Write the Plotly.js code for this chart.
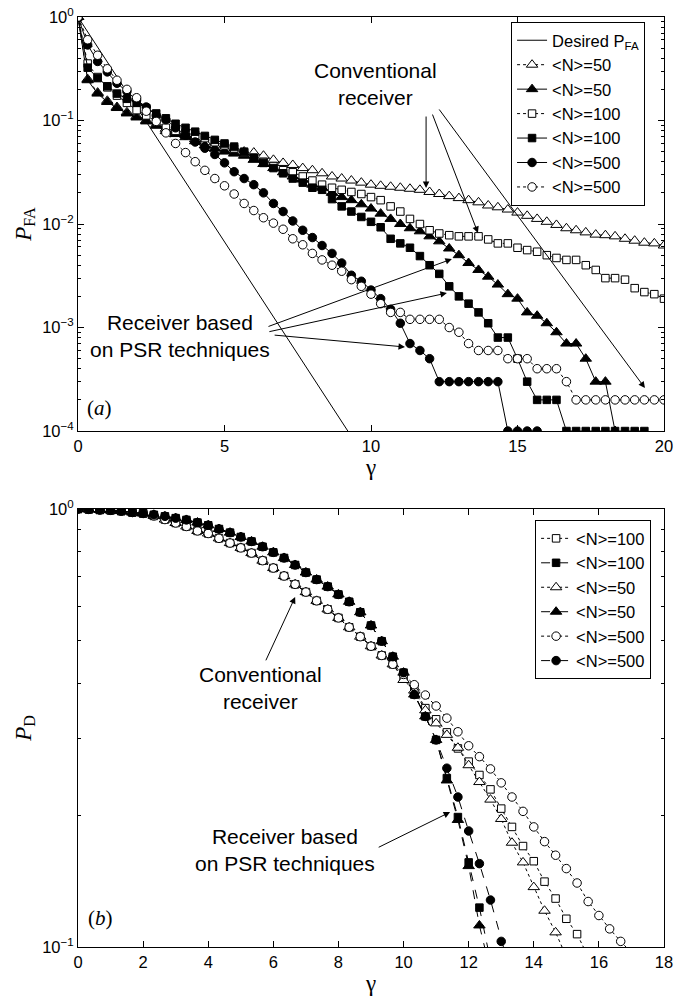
<!DOCTYPE html>
<html>
<head>
<meta charset="utf-8">
<script src="https://cdn.plot.ly/plotly-3.0.1.min.js"></script>
<style>html,body{margin:0;padding:0;background:#fff;}#chart{width:674px;height:1001px;}</style>
</head>
<body>
<div id="chart"></div>
<script>
// ---------- Panel (a): false-alarm probability vs gamma ----------
const gammaA = [0,0.33,0.67,1,1.33,1.67,2,2.33,2.67,3,3.33,3.67,4,4.33,4.67,5,5.33,5.67,6,6.33,6.67,7,7.33,7.67,8,8.33,8.67,9,9.33,9.67,10,10.33,10.67,11,11.33,11.67,12,12.33,12.67,13,13.33,13.67,14,14.33,14.67,15,15.33,15.67,16,16.33,16.67,17,17.33,17.67,18,18.33,18.67,19,19.33,19.67,20];
const desiredGamma = [0, 9.21];
const desiredPfa = [1, 0.0001];
const pfaConv50 = [1,0.251,0.186,0.155,0.135,0.120,0.110,0.100,0.0912,0.0832,0.0776,0.0724,0.0661,0.0617,0.0575,0.0537,0.0525,0.0501,0.0490,0.0457,0.0417,0.0389,0.0372,0.0347,0.0331,0.0309,0.0288,0.0275,0.0263,0.0251,0.0240,0.0234,0.0229,0.0224,0.0219,0.0214,0.0204,0.0195,0.0186,0.0178,0.0170,0.0162,0.0151,0.0145,0.0138,0.0129,0.0120,0.0112,0.0105,0.0098,0.0091,0.0087,0.0083,0.0079,0.0078,0.0076,0.0072,0.0069,0.0066,0.0065,0.0062];
const pfaPsr50 = [1,0.245,0.182,0.151,0.132,0.117,0.107,0.098,0.089,0.079,0.074,0.069,0.063,0.0575,0.0537,0.0501,0.0479,0.0457,0.0417,0.0380,0.0347,0.0316,0.0288,0.0269,0.0240,0.0224,0.0200,0.0182,0.0170,0.0155,0.0141,0.0126,0.0112,0.0100,0.0091,0.0085,0.0076,0.0068,0.0058,0.0050,0.0042,0.0036,0.0031,0.0026,0.0021,0.0019,0.0014,0.0013,0.0011,0.0009,0.0007,0.0007,0.0005,0.0003,0.0003,0.0001,null,null,null,null,null];
const pfaConv100 = [1,0.355,0.263,0.209,0.174,0.148,0.126,0.112,0.0977,0.0851,0.0794,0.0759,0.0724,0.0676,0.0617,0.0575,0.0537,0.0490,0.0437,0.0398,0.0363,0.0331,0.0316,0.0288,0.0263,0.0240,0.0224,0.0214,0.0204,0.0195,0.0182,0.0170,0.0148,0.0132,0.0112,0.0100,0.0087,0.0081,0.0078,0.0076,0.0076,0.0076,0.0071,0.0065,0.0065,0.0059,0.0056,0.0054,0.0050,0.0047,0.0045,0.0045,0.0040,0.0036,0.0030,0.0030,0.0029,0.0024,0.0022,0.0021,0.0019];
const pfaPsr100 = [1,0.324,0.257,0.214,0.182,0.162,0.148,0.132,0.117,0.105,0.093,0.085,0.078,0.071,0.065,0.060,0.056,0.050,0.0437,0.0389,0.0347,0.0309,0.0275,0.0251,0.0224,0.0214,0.0174,0.0148,0.0132,0.0117,0.0105,0.0093,0.0072,0.0065,0.0059,0.0049,0.0040,0.0033,0.0025,0.0020,0.0017,0.0014,0.0011,0.0008,0.0008,0.0005,0.0003,0.0002,0.0002,0.0002,0.0001,0.0001,0.0001,0.0001,0.0001,0.0001,0.0001,0.0001,0.0001,null,null];
const pfaPsr500 = [1,0.537,0.372,0.295,0.229,0.191,0.158,0.135,0.112,0.102,0.085,0.072,0.062,0.054,0.047,0.039,0.032,0.0275,0.0240,0.0200,0.0158,0.0132,0.0107,0.0087,0.0074,0.0062,0.0052,0.0042,0.0032,0.0028,0.0023,0.0019,0.0015,0.0011,0.0007,0.0006,0.0005,0.0003,0.0003,0.0003,0.0003,0.0003,0.0003,0.0003,0.0001,0.0001,0.0001,0.0001,null,null,null,null,null,null,null,null,null,null,null,null,null];
const pfaConv500 = [1,0.603,0.427,0.316,0.245,0.200,0.166,0.123,0.098,0.076,0.060,0.049,0.040,0.033,0.0275,0.0234,0.0195,0.0158,0.0135,0.0115,0.0102,0.0089,0.0072,0.0063,0.0052,0.0045,0.0040,0.0035,0.0029,0.0025,0.0021,0.0017,0.0014,0.0014,0.0012,0.0012,0.0012,0.0012,0.0010,0.0009,0.0007,0.0006,0.0006,0.0006,0.0005,0.0005,0.0005,0.0004,0.0004,0.0004,0.0003,0.0002,0.0002,0.0002,0.0002,0.0002,0.0002,0.0002,0.0002,0.0002,0.0002];

// ---------- Panel (b): detection probability vs gamma ----------
const gammaB = [0,0.33,0.67,1,1.33,1.67,2,2.33,2.67,3,3.33,3.67,4,4.33,4.67,5,5.33,5.67,6,6.33,6.67,7,7.33,7.67,8,8.33,8.67,9,9.33,9.67,10,10.33,10.67,11,11.33,11.67,12,12.33,12.67,13,13.33,13.67,14,14.33,14.67,15,15.33,15.67,16,16.33,16.67,17];
const pdConv100 = [1.000,0.998,0.995,0.993,0.989,0.982,0.977,0.964,0.946,0.929,0.912,0.891,0.879,0.857,0.836,0.815,0.793,0.762,0.733,0.703,0.673,0.646,0.617,0.590,0.564,0.537,0.511,0.486,0.463,0.442,0.411,0.389,0.351,0.331,0.309,0.284,0.265,0.247,0.229,0.207,0.188,0.170,0.157,0.141,0.129,0.116,0.107,0.095];
const pdPsr100 = [1.000,0.998,0.995,0.993,0.989,0.982,0.977,0.970,0.962,0.953,0.944,0.931,0.918,0.900,0.883,0.863,0.843,0.820,0.796,0.773,0.745,0.716,0.690,0.665,0.638,0.614,0.581,0.542,0.499,0.460,0.423,0.377,0.336,0.297,0.243,0.198,0.156,0.123,0.093];
const pdConv50 = [1.000,0.998,0.995,0.993,0.989,0.982,0.977,0.964,0.946,0.929,0.912,0.891,0.879,0.857,0.836,0.815,0.793,0.762,0.733,0.703,0.673,0.646,0.617,0.590,0.564,0.537,0.511,0.486,0.463,0.442,0.407,0.385,0.347,0.324,0.305,0.285,0.260,0.238,0.217,0.196,0.173,0.156,0.137,0.121,0.108,0.095];
const pdPsr50 = [1.000,0.998,0.995,0.993,0.989,0.982,0.977,0.970,0.962,0.953,0.944,0.931,0.918,0.900,0.883,0.863,0.843,0.820,0.796,0.773,0.745,0.716,0.690,0.665,0.638,0.614,0.581,0.542,0.499,0.460,0.423,0.377,0.336,0.297,0.240,0.195,0.153,0.112,0.088];
const pdConv500 = [1.000,0.998,0.995,0.993,0.989,0.982,0.977,0.964,0.946,0.929,0.912,0.891,0.879,0.857,0.836,0.815,0.793,0.762,0.733,0.703,0.673,0.646,0.617,0.590,0.564,0.537,0.511,0.486,0.463,0.442,0.419,0.397,0.376,0.355,0.333,0.310,0.288,0.272,0.255,0.237,0.220,0.204,0.188,0.174,0.162,0.151,0.140,0.127,0.118,0.110,0.103,0.097];
const pdPsr500 = [1.000,0.998,0.995,0.993,0.989,0.982,0.977,0.970,0.962,0.953,0.944,0.931,0.918,0.900,0.883,0.863,0.843,0.820,0.796,0.773,0.745,0.716,0.690,0.665,0.638,0.614,0.581,0.542,0.499,0.460,0.423,0.377,0.336,0.297,0.256,0.220,0.184,0.155,0.128,0.103,0.085];

const labelsA = ['Desired P<sub>FA</sub>','&lt;N&gt;=50','&lt;N&gt;=50','&lt;N&gt;=100','&lt;N&gt;=100','&lt;N&gt;=500','&lt;N&gt;=500'];
const labelsB = ['&lt;N&gt;=100','&lt;N&gt;=100','&lt;N&gt;=50','&lt;N&gt;=50','&lt;N&gt;=500','&lt;N&gt;=500'];

const SANS = 'Liberation Sans, Arial, sans-serif';
const SERIF = 'Liberation Serif, Times New Roman, serif';

function mk(sym, filled, size) {
  return {symbol: sym, size: size, color: filled ? 'black' : 'white', line: {color: 'black', width: 1}};
}
function tr(x, y, name, sym, filled, dash, size, xa, ya, leg) {
  return {x: x.slice(0, y.length), y: y, name: name, type: 'scatter', mode: 'lines+markers',
    line: {color: 'black', width: 1, dash: dash}, marker: mk(sym, filled, size),
    xaxis: xa, yaxis: ya, legend: leg, cliponaxis: true};
}

const traces = [
  {x: desiredGamma, y: desiredPfa, name: labelsA[0], type: 'scatter', mode: 'lines', line: {color: 'black', width: 1}, xaxis: 'x', yaxis: 'y', legend: 'legend'},
  tr(gammaA, pfaConv50, labelsA[1], 'triangle-up', false, 'dot', 10, 'x', 'y', 'legend'),
  tr(gammaA, pfaPsr50, labelsA[2], 'triangle-up', true, 'solid', 10, 'x', 'y', 'legend'),
  tr(gammaA, pfaConv100, labelsA[3], 'square', false, 'dot', 7.5, 'x', 'y', 'legend'),
  tr(gammaA, pfaPsr100, labelsA[4], 'square', true, 'solid', 7.5, 'x', 'y', 'legend'),
  tr(gammaA, pfaPsr500, labelsA[5], 'circle', true, 'solid', 8.5, 'x', 'y', 'legend'),
  tr(gammaA, pfaConv500, labelsA[6], 'circle', false, 'dot', 8.5, 'x', 'y', 'legend'),

  tr(gammaB, pdConv100, labelsB[0], 'square', false, 'dot', 7.5, 'x2', 'y2', 'legend2'),
  tr(gammaB, pdPsr100, labelsB[1], 'square', true, 'dash', 7.5, 'x2', 'y2', 'legend2'),
  tr(gammaB, pdConv50, labelsB[2], 'triangle-up', false, 'dot', 10, 'x2', 'y2', 'legend2'),
  tr(gammaB, pdPsr50, labelsB[3], 'triangle-up', true, 'dash', 10, 'x2', 'y2', 'legend2'),
  tr(gammaB, pdConv500, labelsB[4], 'circle', false, 'dot', 8.5, 'x2', 'y2', 'legend2'),
  tr(gammaB, pdPsr500, labelsB[5], 'circle', true, 'dash', 8.5, 'x2', 'y2', 'legend2')
];

function minorVals(lo, hi) {
  const v = [];
  for (let e = lo; e < hi; e++) for (let m = 2; m <= 9; m++) v.push(m * Math.pow(10, e));
  return v;
}

const tickFont = {family: SANS, size: 16.5, color: 'black'};
const axBase = {showline: true, linecolor: 'black', linewidth: 1, mirror: 'ticks', ticks: 'inside',
  ticklen: 6, tickcolor: 'black', showgrid: false, zeroline: false, tickfont: tickFont};

const layout = {
  width: 674, height: 1001,
  margin: {l: 78, r: 10, t: 17, b: 54},
  paper_bgcolor: 'white', plot_bgcolor: 'white',
  showlegend: true,
  font: {family: SANS, color: 'black'},
  xaxis: Object.assign({}, axBase, {anchor: 'y', range: [0, 20], tickvals: [0, 5, 10, 15, 20],
    title: {text: 'γ', font: {family: SERIF, size: 23}, standoff: 5}}),
  yaxis: Object.assign({}, axBase, {anchor: 'x', domain: [0.5548, 1], type: 'log', range: [-4, 0],
    tickvals: [1e-4, 1e-3, 1e-2, 1e-1, 1], ticktext: ['10<sup>−4</sup>', '10<sup>−3</sup>', '10<sup>−2</sup>', '10<sup>−1</sup>', '10<sup>0</sup>'],
    minor: {tickvals: minorVals(-4, 0), ticks: 'inside', ticklen: 3, tickcolor: 'black', showgrid: false},
    title: {text: '<i>P</i><sub>FA</sub>', font: {family: SERIF, size: 23}, standoff: 4}}),
  xaxis2: Object.assign({}, axBase, {anchor: 'y2', range: [0, 18], tickvals: [0, 2, 4, 6, 8, 10, 12, 14, 16, 18],
    title: {text: 'γ', font: {family: SERIF, size: 23}, standoff: 5}}),
  yaxis2: Object.assign({}, axBase, {anchor: 'x2', domain: [0, 0.471], type: 'log', range: [-1, 0],
    tickvals: [0.1, 1], ticktext: ['10<sup>−1</sup>', '10<sup>0</sup>'],
    minor: {tickvals: minorVals(-1, 0), ticks: 'inside', ticklen: 3, tickcolor: 'black', showgrid: false},
    title: {text: '<i>P</i><sub>D</sub>', font: {family: SERIF, size: 23}, standoff: 4}}),
  legend: {x: 0.739, y: 0.9946, xanchor: 'left', yanchor: 'top', bgcolor: 'white', bordercolor: 'black', borderwidth: 1,
    font: {family: SANS, size: 16.5, color: 'black'}, tracegroupgap: 0, itemwidth: 30},
  legend2: {x: 0.780, y: 0.459, xanchor: 'left', yanchor: 'top', bgcolor: 'white', bordercolor: 'black', borderwidth: 1,
    font: {family: SANS, size: 16.5, color: 'black'}, tracegroupgap: 0, itemwidth: 30},
  annotations: []
};

const annFont = {family: SANS, size: 21, color: 'black'};
function txt(x, y, t, xr, yr, font) {
  return {x: x, y: y, xref: xr, yref: yr, text: t, showarrow: false, font: font || annFont, align: 'center', xanchor: 'center', yanchor: 'middle'};
}
function arr(hx, hy, tx, ty, xr, yr) {
  return {x: hx, y: hy, ax: tx, ay: ty, xref: xr, yref: yr, axref: xr, ayref: yr, text: '', showarrow: true,
    arrowhead: 2, arrowsize: 1.3, arrowwidth: 1, arrowcolor: 'black', standoff: 0, startstandoff: 0};
}
const labFont = {family: SERIF, size: 21, color: 'black'};
layout.annotations.push(
  txt(10.17, -0.647, 'Conventional<br>receiver', 'x', 'y'),
  arr(11.88, -1.652, 11.88, -0.947, 'x', 'y'),
  arr(13.65, -2.087, 12.08, -0.928, 'x', 'y'),
  arr(19.35, -3.585, 12.29, -0.879, 'x', 'y'),
  txt(3.48, -3.082, 'Receiver based<br>on PSR techniques', 'x', 'y'),
  arr(12.76, -2.338, 6.45, -2.995, 'x', 'y'),
  arr(12.59, -2.667, 6.48, -3.043, 'x', 'y'),
  arr(11.16, -3.188, 6.66, -3.072, 'x', 'y'),
  txt(0.75, -3.78, '(<i>a</i>)', 'x', 'y', labFont),
  txt(5.62, -0.409, 'Conventional<br>receiver', 'x2', 'y2'),
  arr(6.67, -0.201, 5.75, -0.349, 'x2', 'y2'),
  txt(6.36, -0.779, 'Receiver based<br>on PSR techniques', 'x2', 'y2'),
  arr(11.43, -0.692, 9.19, -0.774, 'x2', 'y2'),
  txt(0.68, -0.934, '(<i>b</i>)', 'x2', 'y2', labFont)
);

Plotly.newPlot('chart', traces, layout, {displayModeBar: false, staticPlot: true});
</script>
</body>
</html>
